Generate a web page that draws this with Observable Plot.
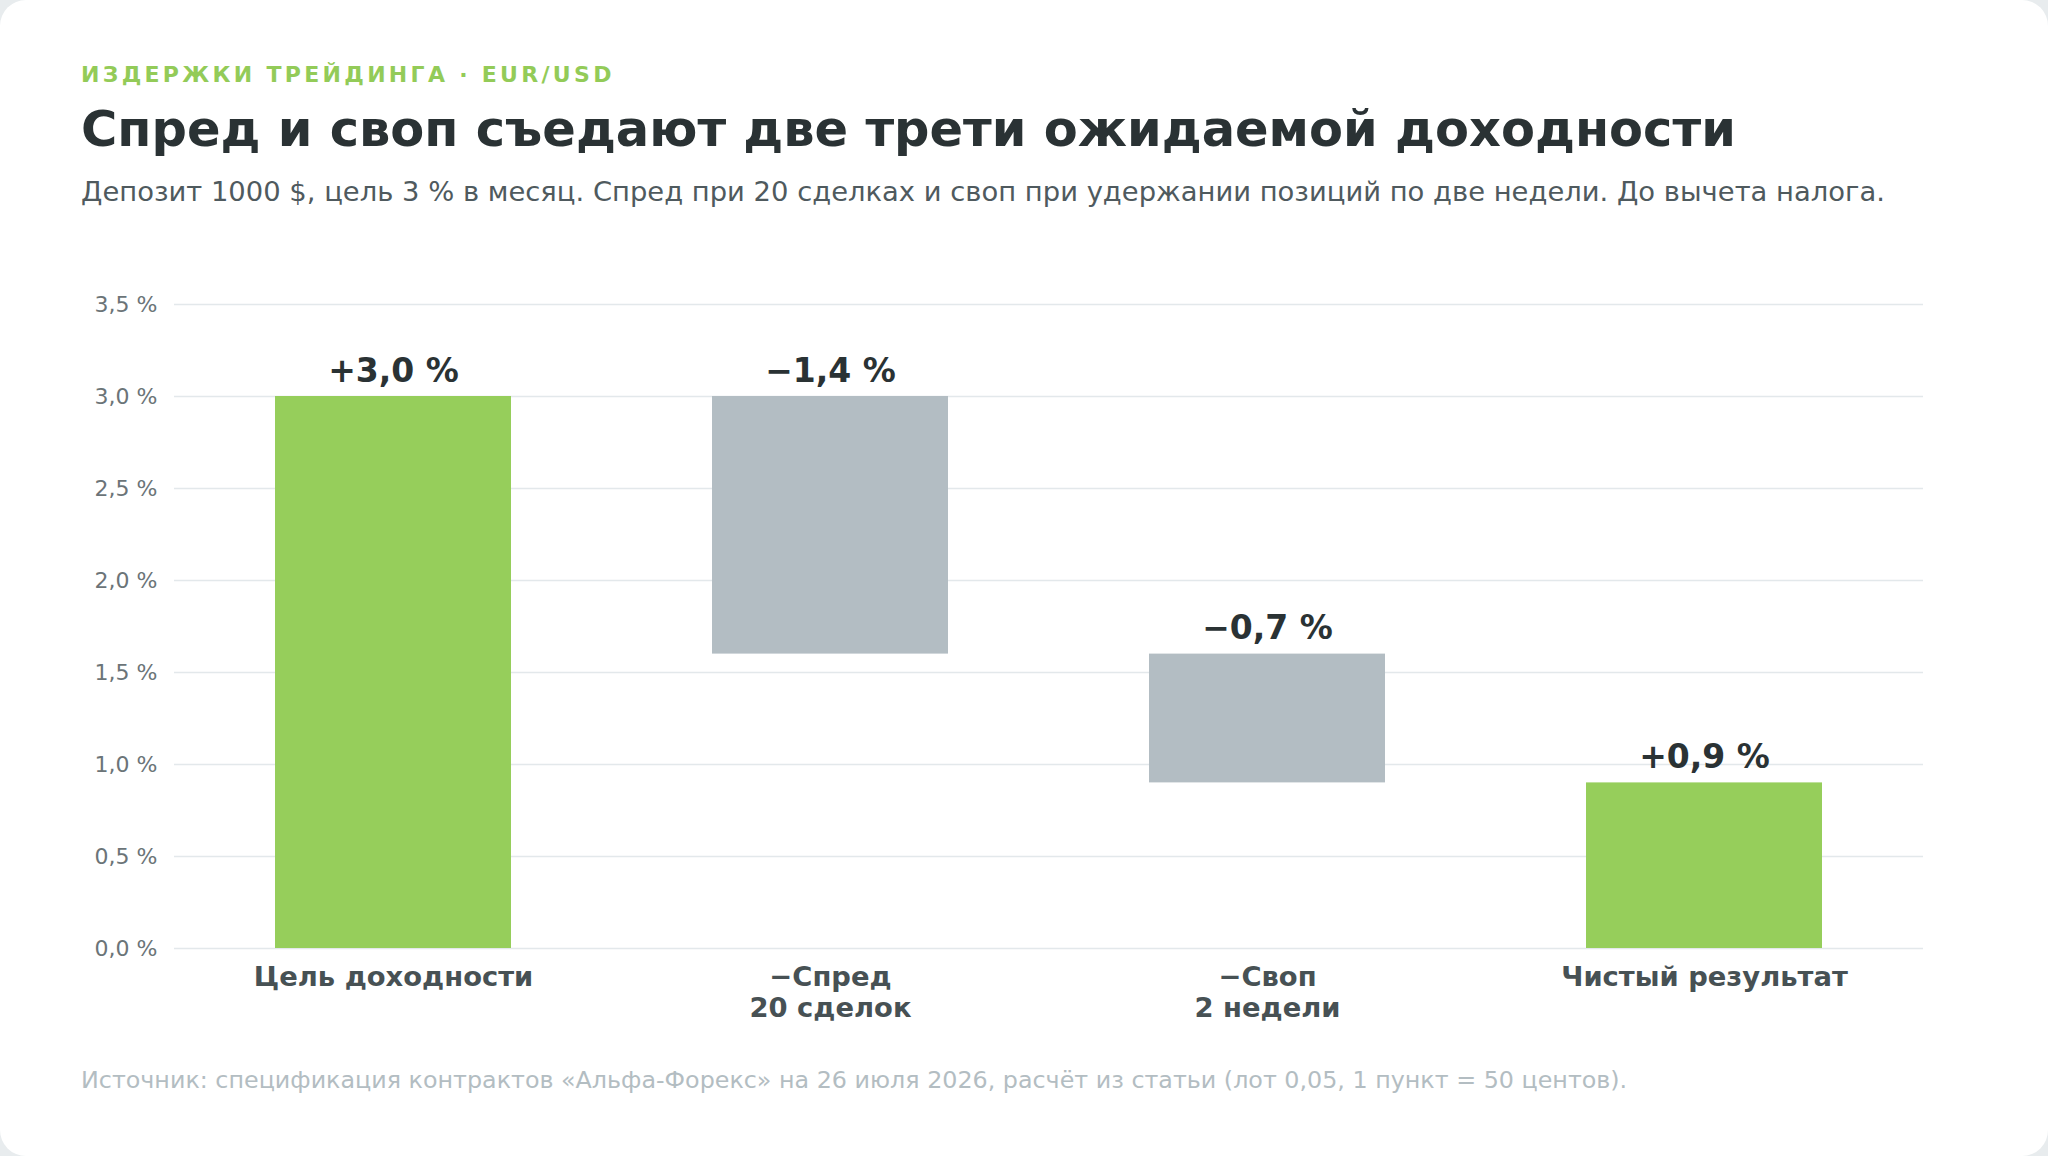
<!DOCTYPE html>
<html lang="ru">
<head>
<meta charset="utf-8">
<script src="https://cdn.jsdelivr.net/npm/d3@7"></script>
<script src="https://cdn.jsdelivr.net/npm/@observablehq/plot@0.6"></script>
<style>
  html, body { margin: 0; padding: 0; background: #e8ecee; }
  body { width: 2048px; height: 1156px; overflow: hidden; font-family: "DejaVu Sans", sans-serif; }
  .card { position: relative; width: 2048px; height: 1156px; background: #ffffff; border-radius: 26px; overflow: hidden; }
  .eyebrow { position: absolute; left: 81px; top: 62px; font-size: 22px; font-weight: bold; letter-spacing: 3.3px; color: #93cb58; white-space: nowrap; }
  .title { position: absolute; left: 81px; top: 100px; font-size: 49.5px; font-weight: bold; color: #2a3234; white-space: nowrap; }
  .subtitle { position: absolute; left: 81px; top: 176px; font-size: 27.4px; color: #4f5a5e; white-space: nowrap; }
  .chart { position: absolute; left: 81px; top: 260px; }
  .caption { position: absolute; left: 81px; top: 1066px; font-size: 23.8px; color: #b3bdc2; white-space: nowrap; }
</style>
</head>
<body>
<div class="card">
  <div class="eyebrow">ИЗДЕРЖКИ ТРЕЙДИНГА · EUR/USD</div>
  <div class="title">Спред и своп съедают две трети ожидаемой доходности</div>
  <div class="subtitle">Депозит 1000 $, цель 3 % в месяц. Спред при 20 сделках и своп при удержании позиций по две недели. До вычета налога.</div>
  <div class="chart" id="chart"></div>
  <div class="caption">Источник: спецификация контрактов «Альфа-Форекс» на 26 июля 2026, расчёт из статьи (лот 0,05, 1 пункт = 50 центов).</div>
</div>
<script>
const categories = ["Цель доходности", "−Спред\n20 сделок", "−Своп\n2 недели", "Чистый результат"];
const starts = [0, 3.0, 1.6, 0];
const ends = [3.0, 1.6, 0.9, 0.9];
const valueLabels = ["+3,0 %", "−1,4 %", "−0,7 %", "+0,9 %"];
const kinds = ["total", "cost", "cost", "total"];
const yTicks = [0, 0.5, 1.0, 1.5, 2.0, 2.5, 3.0, 3.5];

const rows = categories.map((c, i) => ({
  cat: c, y1: starts[i], y2: ends[i], top: Math.max(starts[i], ends[i]),
  label: valueLabels[i], kind: kinds[i]
}));

const fmt = d => d.toFixed(1).replace(".", ",") + " %";

const chart = Plot.plot({
  width: 1887,
  height: 780,
  marginTop: 44,
  marginBottom: 92,
  marginLeft: 93,
  marginRight: 45,
  style: { fontFamily: "DejaVu Sans, sans-serif", background: "transparent" },
  x: { domain: categories, paddingInner: 0.46, paddingOuter: 0.23, label: null },
  y: { domain: [0, 3.5], label: null },
  color: { domain: ["total", "cost"], range: ["#96ce5b", "#b3bdc3"] },
  marks: [
    Plot.gridY(yTicks, { stroke: "#e3e8eb", strokeOpacity: 1, strokeWidth: 1.5 }),
    Plot.axisY(yTicks, { tickSize: 0, tickPadding: 17, tickFormat: fmt, fontSize: 22, fill: "#6b7478", label: null }),
    Plot.axisX({ tickSize: 0, tickPadding: 15, fontSize: 27.4, fontWeight: "bold", fill: "#475154", lineHeight: 1.15, label: null }),
    Plot.barY(rows, { x: "cat", y1: "y1", y2: "y2", fill: "kind" }),
    Plot.text(rows, { x: "cat", y: "top", text: "label", dy: -15, lineAnchor: "bottom", fontSize: 33, fontWeight: "bold", fill: "#2a3234" })
  ]
});
document.getElementById("chart").appendChild(chart);
</script>
</body>
</html>
